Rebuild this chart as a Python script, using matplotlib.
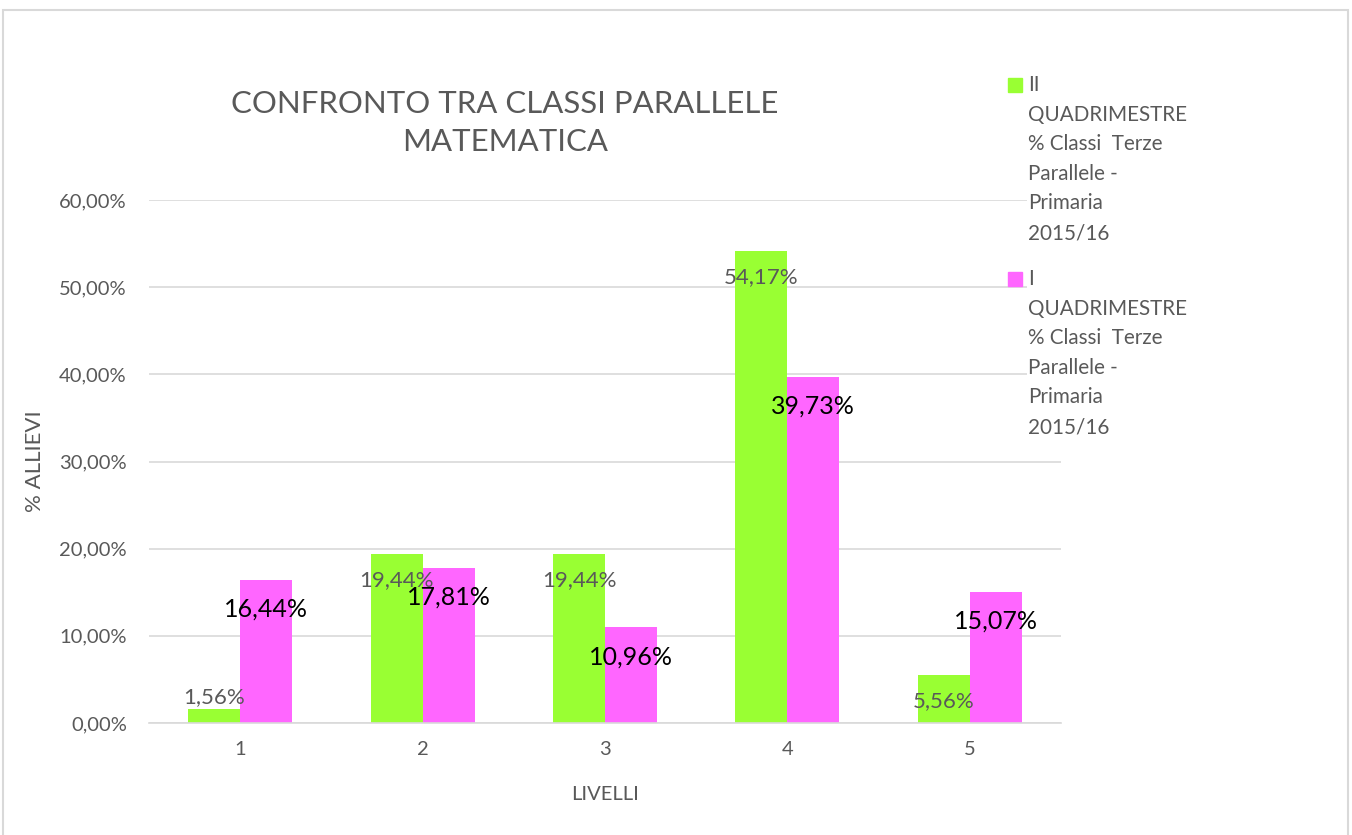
import matplotlib.pyplot as plt
import numpy as np
from matplotlib.patches import Rectangle
from matplotlib.ticker import FuncFormatter

plt.rcParams["font.family"] = ["Lato", "DejaVu Sans"]

levels = ["1", "2", "3", "4", "5"]
second_q = [1.56, 19.44, 19.44, 54.17, 5.56]
first_q = [16.44, 17.81, 10.96, 39.73, 15.07]
series_names = [
    "II\nQUADRIMESTRE\n% Classi  Terze\nParallele -\nPrimaria\n2015/16",
    "I\nQUADRIMESTRE\n% Classi  Terze\nParallele -\nPrimaria\n2015/16",
]
title = "CONFRONTO TRA CLASSI PARALLELE\nMATEMATICA"

GREEN = "#99FF33"
PINK = "#FF66FF"
GREY_TXT = "#595959"
GRID = "#D9D9D9"


def pct(v):
    return f"{v:.2f}".replace(".", ",") + "%"


fig = plt.figure(figsize=(13.52, 8.35), dpi=100)
ax = fig.add_axes([149 / 1352, 1 - 723 / 835, 912 / 1352, 523 / 835])

x = np.arange(len(levels))
w = 0.285
b1 = ax.bar(x - w / 2, second_q, w, color=GREEN, zorder=2)
b2 = ax.bar(x + w / 2, first_q, w, color=PINK, zorder=2)

ax.set_xlim(-0.5, len(levels) - 0.5)
ax.set_ylim(0, 60)
ax.set_yticks(np.arange(0, 61, 10))
ax.yaxis.set_major_formatter(FuncFormatter(lambda v, p: pct(v)))
ax.set_xticks(x)
ax.set_xticklabels(levels)
ax.tick_params(length=0, labelsize=14.5, colors=GREY_TXT)
ax.tick_params(axis="x", pad=13)
ax.tick_params(axis="y", pad=16)
ax.grid(axis="y", color=GRID, linewidth=1.2, zorder=0)
for s in ["top", "right", "left"]:
    ax.spines[s].set_visible(False)
ax.spines["bottom"].set_color(GRID)
ax.spines["bottom"].set_linewidth(1.2)

ax.set_xlabel("LIVELLI", fontsize=14.5, color=GREY_TXT, labelpad=20)
ax.set_ylabel("% ALLIEVI", fontsize=16, color=GREY_TXT, labelpad=10)

# data labels: green ones inside the top (above if bar too short), pink inside the top
for bar, v in zip(b1, second_q):
    dy = 9 if v < 3 else -19
    ax.annotate(pct(v), (bar.get_x() + bar.get_width() / 2, v),
                xytext=(0, dy), textcoords="offset points",
                ha="center", va="center", fontsize=16, color=GREY_TXT, zorder=3)
for bar, v in zip(b2, first_q):
    ax.annotate(pct(v), (bar.get_x() + bar.get_width() / 2, v),
                xytext=(0, -21), textcoords="offset points",
                ha="center", va="center", fontsize=18, color="black", zorder=3)

fig.text(505 / 1352, 1 - 123 / 835, title, ha="center", va="center",
         fontsize=22.4, color=GREY_TXT, linespacing=1.4)

# legend drawn by hand
for i, (name, c) in enumerate(zip(series_names, [GREEN, PINK])):
    mid = 1 - (85 + i * 194) / 835
    fig.patches.append(Rectangle((1008 / 1352, mid - 7 / 835), 14 / 1352, 14 / 835,
                                 transform=fig.transFigure, color=c))
    fig.text(1028 / 1352, mid + 10 / 835, name, ha="left", va="top", fontsize=14.9,
             color=GREY_TXT, linespacing=1.6,
             bbox=dict(facecolor="white", edgecolor="none", pad=1))

# outer frame
fig.patches.append(Rectangle((3 / 1352, -0.05), 1345 / 1352, 1.05 - 10 / 835,
                             transform=fig.transFigure, fill=False,
                             edgecolor="#D9D9D9", linewidth=1.5))

fig.savefig("out.png", dpi=100)
